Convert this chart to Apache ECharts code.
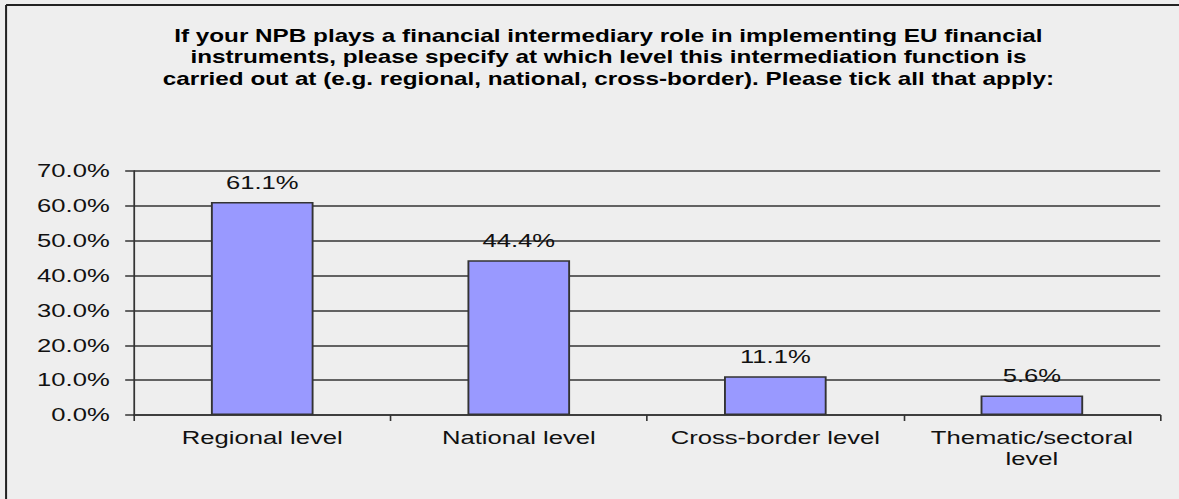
<!DOCTYPE html>
<html>
<head>
<meta charset="utf-8">
<script src="https://cdn.jsdelivr.net/npm/echarts@6/dist/echarts.min.js"></script>
<style>
  html, body { margin: 0; padding: 0; background: #eeeeee; overflow: hidden; }
  /* the source picture is a stretched screenshot, so draw narrow and widen it */
  #chart { width: 874px; height: 499px; transform: scaleX(1.349); transform-origin: 0 0; }
</style>
</head>
<body>
<div id="chart"></div>
<script>
// data
var categories = ['Regional level', 'National level', 'Cross-border level', 'Thematic/sectoral\nlevel'];
var shares = [61.1, 44.4, 11.1, 5.6];
var titleText = 'If your NPB plays a financial intermediary role in implementing EU financial\n' +
  'instruments, please specify at which level this intermediation function is\n' +
  'carried out at (e.g. regional, national, cross-border). Please tick all that apply:';

var FONT = 'Liberation Sans, Arial, sans-serif';

var chart = echarts.init(document.getElementById('chart'), null, { renderer: 'svg' });

var option = {
  backgroundColor: '#eeeeee',
  animation: false,
  title: {
    text: titleText,
    left: 446,
    textAlign: 'center',
    top: 20,
    textStyle: {
      fontFamily: FONT,
      fontWeight: 'bold',
      fontSize: 18,
      lineHeight: 21.5,
      color: '#000'
    }
  },
  // outer frame, only top and left edges show
  graphic: [
    { type: 'line', shape: { x1: 4.5, y1: 5, x2: 4.5, y2: 499 }, style: { stroke: '#222', lineWidth: 1.5 } },
    { type: 'line', shape: { x1: 4.5, y1: 5, x2: 874, y2: 5 }, style: { stroke: '#222', lineWidth: 2 } }
  ],
  grid: {
    left: 99.3,
    right: 14,
    top: 171,
    bottom: 84
  },
  xAxis: {
    type: 'category',
    data: categories,
    axisLine: { show: true, lineStyle: { color: '#333', width: 1.5 } },
    axisTick: { show: true, length: 6, lineStyle: { color: '#333', width: 1.2 } },
    axisLabel: {
      interval: 0,
      margin: 12,
      fontFamily: FONT,
      fontSize: 19,
      lineHeight: 21,
      color: '#111'
    }
  },
  yAxis: {
    type: 'value',
    min: 0,
    max: 70,
    interval: 10,
    axisLine: { show: true, lineStyle: { color: '#333', width: 1.3 } },
    axisTick: { show: true, length: 6.5, lineStyle: { color: '#333', width: 1.5 } },
    splitLine: { show: true, lineStyle: { color: '#333', width: 1.5 } },
    axisLabel: {
      margin: 18,
      fontFamily: FONT,
      fontSize: 19,
      color: '#111',
      formatter: function (v) { return v.toFixed(1) + '%'; }
    }
  },
  series: [{
    type: 'bar',
    data: shares,
    barWidth: '40%',
    itemStyle: {
      color: '#9999ff',
      borderColor: '#333',
      borderWidth: 1.4
    },
    label: {
      show: true,
      position: 'top',
      distance: 10,
      fontFamily: FONT,
      fontSize: 19,
      color: '#111',
      formatter: function (p) { return p.value.toFixed(1) + '%'; }
    }
  }]
};

chart.setOption(option);
</script>
</body>
</html>
